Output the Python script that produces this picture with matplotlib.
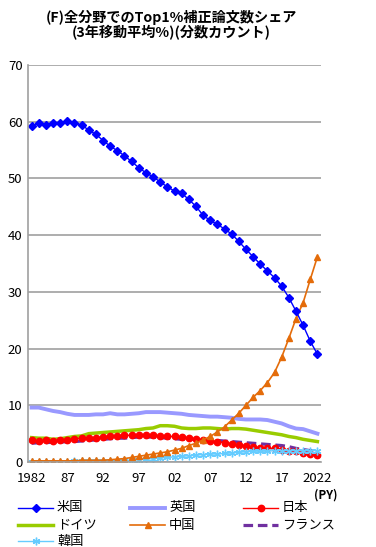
import matplotlib
matplotlib.use("Agg")
import matplotlib.pyplot as plt
from matplotlib.lines import Line2D
import numpy as np

plt.rcParams['font.family'] = ['Noto Sans CJK JP', 'DejaVu Sans']

years = list(range(1982, 2023))
tick_labels = ['1982', '87', '92', '97', '02', '07', '12', '17', '2022']

usa = [59.3, 59.7, 59.4, 59.7, 59.8, 60.2, 59.7, 59.5, 58.5, 57.8,
       56.7, 55.7, 54.9, 54.0, 53.0, 51.9, 51.0, 50.3, 49.4, 48.5,
       47.8, 47.4, 46.3, 45.1, 43.5, 42.6, 41.9, 41.1, 40.2, 38.9,
       37.5, 36.2, 34.9, 33.7, 32.5, 31.0, 29.0, 26.6, 24.1, 21.3, 19.0]
uk = [9.6, 9.6, 9.3, 9.0, 8.8, 8.5, 8.3, 8.3, 8.3, 8.4,
      8.4, 8.6, 8.4, 8.4, 8.5, 8.6, 8.8, 8.8, 8.8, 8.7,
      8.6, 8.5, 8.3, 8.2, 8.1, 8.0, 8.0, 7.9, 7.8, 7.6,
      7.5, 7.5, 7.5, 7.4, 7.1, 6.8, 6.3, 5.9, 5.8, 5.4, 5.0]
japan = [3.9, 3.7, 3.8, 3.7, 3.8, 3.9, 4.1, 4.2, 4.2, 4.3,
         4.4, 4.5, 4.6, 4.7, 4.7, 4.8, 4.7, 4.7, 4.6, 4.5,
         4.5, 4.4, 4.2, 4.0, 3.9, 3.7, 3.6, 3.4, 3.2, 3.0,
         2.8, 2.6, 2.5, 2.4, 2.4, 2.2, 2.0, 1.9, 1.6, 1.4, 1.3]
germany = [4.3, 4.2, 4.2, 4.0, 4.1, 4.3, 4.5, 4.6, 5.0, 5.1,
           5.2, 5.3, 5.4, 5.5, 5.6, 5.7, 5.9, 6.0, 6.4, 6.4,
           6.3, 6.0, 5.9, 5.9, 6.0, 6.0, 5.9, 5.8, 5.9, 5.9,
           5.8, 5.6, 5.4, 5.2, 5.0, 4.8, 4.5, 4.3, 4.0, 3.8, 3.6]
china = [0.2, 0.2, 0.2, 0.2, 0.2, 0.2, 0.2, 0.3, 0.3, 0.3,
         0.3, 0.4, 0.5, 0.6, 0.8, 1.0, 1.2, 1.4, 1.6, 1.8,
         2.1, 2.4, 2.9, 3.3, 3.9, 4.5, 5.3, 6.2, 7.4, 8.6,
         10.0, 11.4, 12.6, 14.0, 15.8, 18.5, 21.8, 25.3, 28.1, 32.2, 36.2]
france = [3.3, 3.4, 3.4, 3.5, 3.5, 3.6, 3.6, 3.7, 3.8, 3.9,
          4.0, 4.1, 4.2, 4.2, 4.3, 4.4, 4.4, 4.4, 4.3, 4.2,
          4.1, 4.0, 4.0, 4.0, 4.0, 3.9, 3.8, 3.7, 3.6, 3.5,
          3.4, 3.3, 3.2, 3.1, 3.0, 2.9, 2.7, 2.4, 2.2, 2.0, 1.8]
korea = [0.0, 0.0, 0.0, 0.0, 0.0, 0.0, 0.1, 0.1, 0.1, 0.1,
         0.1, 0.2, 0.2, 0.3, 0.3, 0.4, 0.5, 0.6, 0.7, 0.8,
         0.9, 1.0, 1.1, 1.2, 1.3, 1.4, 1.4, 1.5, 1.6, 1.7,
         1.8, 1.9, 1.9, 1.9, 2.0, 2.0, 2.0, 2.0, 2.0, 2.0, 2.0]

W, H = 376, 547
fig = plt.figure(figsize=(W / 100, H / 100), dpi=100)
ax = fig.add_axes([0.0745, 0.1554, 0.7792, 0.7256])
x = np.arange(len(years))

ax.set_ylim(0, 70)
ax.set_xlim(-0.5, len(years) - 0.5)
ax.set_yticks(range(0, 71, 10))
ax.yaxis.grid(True, color='#a0a0a0', linewidth=1.2)
ax.set_axisbelow(True)
for s in ['top', 'right']:
    ax.spines[s].set_visible(False)
for s in ['left', 'bottom']:
    ax.spines[s].set_color('#a0a0a0')
    ax.spines[s].set_linewidth(1.2)

# style per series
styles = {
    '英国': dict(color='#9999ff', lw=2.8),
    'ドイツ': dict(color='#99cc00', lw=2.5),
    'フランス': dict(color='#7030a0', lw=2.3, ls=(0, (3, 1.5))),
    '日本': dict(color='#ff0000', lw=1, marker='o', ms=4.6),
    '韓国': dict(color='#66ccff', lw=1, marker=(6, 2, 0), ms=5.5, mew=1),
    '中国': dict(color='#e46c0a', lw=1.2, marker='^', ms=3.8),
    '米国': dict(color='#0000ff', lw=1, marker='D', ms=4.2),
}
series = {'英国': uk, 'ドイツ': germany, 'フランス': france, '日本': japan,
          '韓国': korea, '中国': china, '米国': usa}
for name, vals in series.items():
    ax.plot(x, vals, **styles[name])

ax.set_xticks(x[::5])
ax.set_xticklabels(tick_labels)
ax.tick_params(axis='y', length=0, labelsize=9.5, pad=4)
ax.tick_params(axis='x', length=0, labelsize=9.5, pad=7)

fig.text(0.455, 1 - 17 / H, '(F)全分野でのTop1%補正論文数シェア', ha='center', va='center',
         fontsize=10.2, fontweight='bold')
fig.text(0.455, 1 - 33 / H, '(3年移動平均%)(分数カウント)', ha='center', va='center',
         fontsize=10.2, fontweight='bold')
fig.text(326 / W, 1 - 495 / H, '(PY)', ha='center', va='center', fontsize=8.5, fontweight='bold')

# legend drawn by hand, rows/columns as in the reference
legend_layout = [('米国', 18, 508), ('英国', 130, 508), ('日本', 243, 508),
                 ('ドイツ', 18, 525), ('中国', 130, 525), ('フランス', 243, 525),
                 ('韓国', 18, 541)]
for name, px, py in legend_layout:
    st = dict(styles[name])
    marker = st.pop('marker', None)
    ms = st.pop('ms', None)
    mew = st.pop('mew', None)
    yy = 1 - py / H
    fig.add_artist(Line2D([px / W, (px + 35) / W], [yy, yy], transform=fig.transFigure, **st))
    if marker is not None:
        kw = dict(marker=marker, ms=ms, color=st['color'], ls='none')
        if mew is not None:
            kw['mew'] = mew
        fig.add_artist(Line2D([(px + 17.5) / W], [yy], transform=fig.transFigure, **kw))
    fig.text((px + 39) / W, yy, name, ha='left', va='center', fontsize=9.5)

fig.savefig('out.png', dpi=100)
